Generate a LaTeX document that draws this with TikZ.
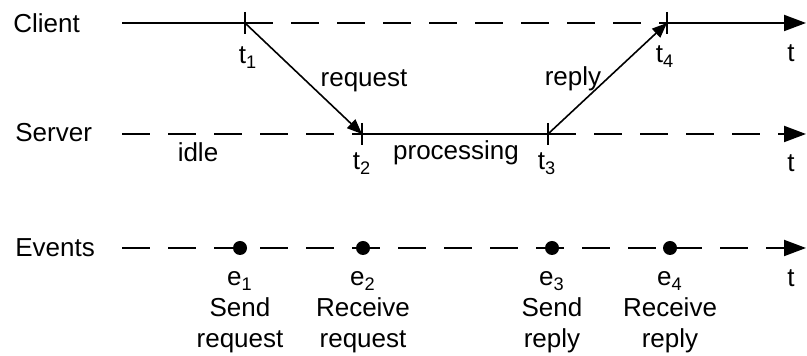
\documentclass[tikz,border=0pt]{standalone}
\usepackage{fontspec}
\setmainfont{Liberation Sans}
\usetikzlibrary{positioning,arrows.meta,calc}
\tikzset{
  >=stealth,
  every node/.style={font=\fontsize{13}{15.5}\selectfont, inner sep=0pt},
  % --- nodes
  lane/.style  = {anchor=base west},
  lbl/.style   = {anchor=base},
  evt/.style   = {circle, fill=black, minimum size=7pt},
  evlbl/.style = {anchor=base, align=center},
  % --- edges
  tl/.style    = {line width=1pt},
  tdash/.style = {tl, dash pattern=on 14pt off 9pt},
  tend/.style  = {-{Triangle[length=11pt,width=8pt]}},
  msg/.style   = {line width=0.8pt, -{Triangle[length=7.5pt,width=6pt]}},
}
\begin{document}
\begin{tikzpicture}[x=0.5pt,y=-0.5pt]
  \useasboundingbox (0,0) rectangle (807,356);
  % time lines
  \coordinate (c0) at (122,23);  \coordinate (t1) at (245,23);
  \coordinate (t4) at (667,23);  \coordinate (c9) at (806,23);
  \coordinate (s0) at (122,134); \coordinate (t2) at (362,134);
  \coordinate (t3) at (548,134); \coordinate (s9) at (806,134);
  \coordinate (e0) at (122,248); \coordinate (e9) at (806,248);
  \draw[tl] (c0) -- (t1); \draw[tdash] (t1) -- (t4); \draw[tl,tend] (t4) -- (c9);
  \draw[tdash] (s0) -- (t2); \draw[tl] (t2) -- (t3); \draw[tdash,tend] (t3) -- (s9);
  \draw[tdash,tend] (e0) -- (e9);
  \foreach \t in {t1,t2,t3,t4}
    \draw[tl] ($(\t)+(0,-11)$) -- ($(\t)+(0,11)$);
  \draw[msg] (t1) -- (t2); \draw[msg] (t3) -- (t4);
  % lanes
  \node[lane] (client) at (13,33)  {Client};
  \node[lane] (server) at (15,142) {Server};
  \node[lane] (events) at (15,257) {Events};
  \node[lbl] (lt1) at (248,64)  {t\textsubscript{1}};
  \node[lbl] (lt2) at (362,170) {t\textsubscript{2}};
  \node[lbl] (lt3) at (547,170) {t\textsubscript{3}};
  \node[lbl] (lt4) at (665,63)  {t\textsubscript{4}};
  \node[lbl] (req)  at (364,87)  {request};
  \node[lbl] (rep)  at (573,86)  {reply};
  \node[lbl] (idle) at (198,162) {idle};
  \node[lbl] (proc) at (456,160) {processing};
  \node[lbl] (tc) at (791,62)  {t};
  \node[lbl] (ts) at (791,172) {t};
  \node[lbl] (te) at (791,287) {t};
  % events
  \foreach \n/\x/\a/\b in {1/240/Send/request,2/363/Receive/request,
                           3/552/Send/reply,4/670/Receive/reply}{
    \node[evt] (e\n) at (\x,248) {};
    \node[evlbl] (le\n) at (\x,348) {e\textsubscript{\n}\\\a\\\b};
  }
\end{tikzpicture}
\end{document}
